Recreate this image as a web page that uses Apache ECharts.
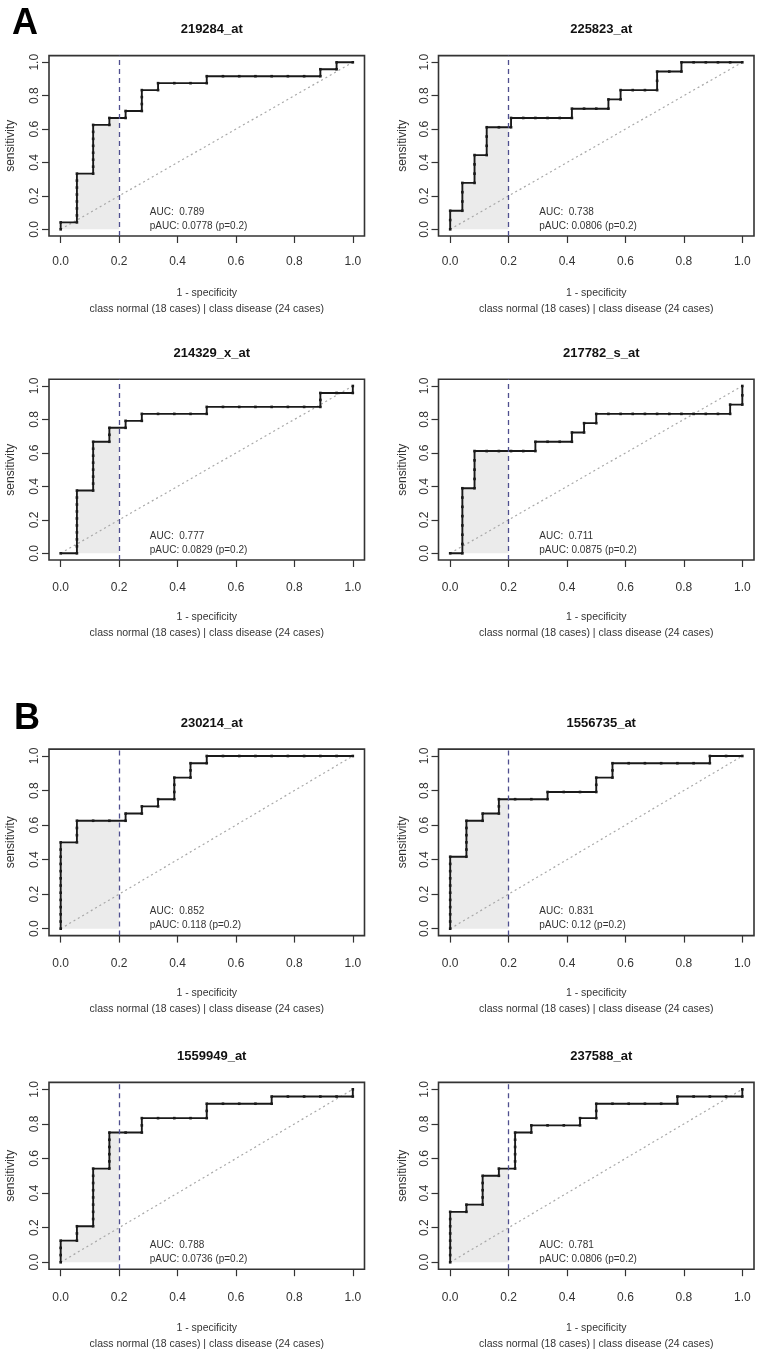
<!DOCTYPE html>
<html>
<head>
<meta charset="utf-8">
<script src="https://cdn.jsdelivr.net/npm/echarts@6/dist/echarts.min.js"></script>
<style>
html,body{margin:0;padding:0;background:#fff;}
#c{width:761px;height:1354px;}
</style>
</head>
<body>
<div id="c"></div>
<script>
// ---------- DATA ----------
const titles = ['219284_at','225823_at','214329_x_at','217782_s_at','230214_at','1556735_at','1559949_at','237588_at'];
const aucValues = ['0.789','0.738','0.777','0.711','0.852','0.831','0.788','0.781'];
const paucValues = ['0.0778','0.0806','0.0829','0.0875','0.118','0.12','0.0736','0.0806'];
// denominators of the step counts (x = 1 - specificity, y = sensitivity)
const xDen = [18,24,18,24,18,18,18,18];
const yDen = [24,18,24,18,24,24,24,24];
const xTicks = [0, 0.2, 0.4, 0.6, 0.8, 1.0];
const tickLabels = ['0.0','0.2','0.4','0.6','0.8','1.0'];
const diagonal = [[0,0],[1,1]];
const pCut = 0.2;

// ROC points as counts (x count / xDen, y count / yDen)
const p1_x = [0,0,1,1,1,1,1,1,1,1,2,2,2,2,2,2,2,2,3,3,4,4,5,5,5,5,6,6,7,8,9,9,10,11,12,13,14,15,16,16,17,17,18];
const p1_y = [0,1,1,2,3,4,5,6,7,8,8,9,10,11,12,13,14,15,15,16,16,17,17,18,19,20,20,21,21,21,21,22,22,22,22,22,22,22,22,23,23,24,24];
const p2_x = [0,0,0,1,1,1,1,2,2,2,2,3,3,3,3,4,5,5,6,7,8,9,10,10,11,12,13,13,14,14,15,16,17,17,17,18,19,19,20,21,22,23,24];
const p2_y = [0,1,2,2,3,4,5,5,6,7,8,8,9,10,11,11,11,12,12,12,12,12,12,13,13,13,13,14,14,15,15,15,15,16,17,17,17,18,18,18,18,18,18];
const p3_x = [0,1,1,1,1,1,1,1,1,1,1,2,2,2,2,2,2,2,2,3,3,3,4,4,5,5,6,7,8,9,9,10,11,12,13,14,15,16,16,16,17,18,18];
const p3_y = [0,0,1,2,3,4,5,6,7,8,9,9,10,11,12,13,14,15,16,16,17,18,18,19,19,20,20,20,20,20,21,21,21,21,21,21,21,21,22,23,23,23,24];
const p4_x = [0,1,1,1,1,1,1,1,1,2,2,2,2,2,3,4,5,6,7,7,8,9,10,10,11,11,12,12,13,14,15,16,17,18,19,20,21,22,23,23,24,24,24];
const p4_y = [0,0,1,2,3,4,5,6,7,7,8,9,10,11,11,11,11,11,11,12,12,12,12,13,13,14,14,15,15,15,15,15,15,15,15,15,15,15,15,16,16,17,18];
const p5_x = [0,0,0,0,0,0,0,0,0,0,0,0,0,1,1,1,1,2,3,4,4,5,5,6,6,7,7,7,7,8,8,8,9,9,10,11,12,13,14,15,16,17,18];
const p5_y = [0,1,2,3,4,5,6,7,8,9,10,11,12,12,13,14,15,15,15,15,16,16,17,17,18,18,19,20,21,21,22,23,23,24,24,24,24,24,24,24,24,24,24];
const p6_x = [0,0,0,0,0,0,0,0,0,0,0,1,1,1,1,1,1,2,2,3,3,3,4,5,6,6,7,8,9,9,9,10,10,10,11,12,13,14,15,16,16,17,18];
const p6_y = [0,1,2,3,4,5,6,7,8,9,10,10,11,12,13,14,15,15,16,16,17,18,18,18,18,19,19,19,19,20,21,21,22,23,23,23,23,23,23,23,24,24,24];
const p7_x = [0,0,0,0,1,1,1,2,2,2,2,2,2,2,2,2,3,3,3,3,3,3,4,5,5,5,6,7,8,9,9,9,10,11,12,13,13,14,15,16,17,18,18];
const p7_y = [0,1,2,3,3,4,5,5,6,7,8,9,10,11,12,13,13,14,15,16,17,18,18,18,19,20,20,20,20,20,21,22,22,22,22,22,23,23,23,23,23,23,24];
const p8_x = [0,0,0,0,0,0,0,0,1,1,2,2,2,2,2,3,3,4,4,4,4,4,4,5,5,6,7,8,8,9,9,9,10,11,12,13,14,14,15,16,17,18,18];
const p8_y = [0,1,2,3,4,5,6,7,7,8,8,9,10,11,12,12,13,13,14,15,16,17,18,18,19,19,19,19,20,20,21,22,22,22,22,22,22,23,23,23,23,23,24];
const curvesX = [p1_x,p2_x,p3_x,p4_x,p5_x,p6_x,p7_x,p8_x];
const curvesY = [p1_y,p2_y,p3_y,p4_y,p5_y,p6_y,p7_y,p8_y];

// ---------- LAYOUT ----------
const colLeft = [49, 438.5];
const colWidth = 315.5;
const rowTop = [55.6, 379.3, 749.1, 1082.4];
const rowHeight = [180.4, 180.7, 186.5, 186.8];
const titleTop = [18, 342, 712, 1045];
const xNameGap = [49, 49, 50, 51];
const xLabelMargin = [20, 22, 22, 22];
const yNameGap = [32, 30];

const SANS = '"Liberation Sans",Arial,sans-serif';
const TXT = '#333';

const grids = [], xAxes = [], yAxes = [], series = [], titleList = [];

titleList.push({text:'A', left:7, top:1, textStyle:{fontFamily:SANS, fontWeight:'bold', fontSize:36, color:'#000'}});
titleList.push({text:'B', left:9, top:696, textStyle:{fontFamily:SANS, fontWeight:'bold', fontSize:36, color:'#000'}});

const fmt = v => { const k = xTicks.indexOf(v); return k >= 0 ? tickLabels[k] : v.toFixed(1); };

for (let i = 0; i < 8; i++) {
  const col = i % 2, row = Math.floor(i / 2);
  grids.push({left: colLeft[col], top: rowTop[row], width: colWidth, height: rowHeight[row],
    show: true, borderColor: '#333', borderWidth: 1.6, backgroundColor: 'transparent', containLabel: false});
  titleList.push({text: titles[i], left: colLeft[col] + colWidth / 2, top: titleTop[row], textAlign: 'center',
    textStyle: {fontFamily: SANS, fontWeight: 'bold', fontSize: 13, color: '#111'}});
  xAxes.push({type: 'value', gridIndex: i, min: -0.04, max: 1.04,
    axisLine: {show: false, onZero: false}, splitLine: {show: false},
    axisTick: {show: true, inside: false, length: 7, customValues: xTicks, lineStyle: {color: '#333', width: 1.2}},
    axisLabel: {customValues: xTicks, margin: xLabelMargin[row], fontFamily: SANS, fontSize: 12, color: TXT, formatter: fmt},
    name: '1 - specificity\nclass normal (18 cases) | class disease (24 cases)',
    nameLocation: 'middle', nameGap: xNameGap[row], nameMoveOverlap: false,
    nameTextStyle: {fontFamily: SANS, fontSize: 10.5, color: TXT, lineHeight: 16, verticalAlign: 'top', align: 'center'}
  });
  yAxes.push({type: 'value', gridIndex: i, min: -0.04, max: 1.04,
    axisLine: {show: false, onZero: false}, splitLine: {show: false},
    axisTick: {show: true, inside: false, length: 7, customValues: xTicks, lineStyle: {color: '#333', width: 1.2}},
    axisLabel: {customValues: xTicks, rotate: 90, margin: 8, fontFamily: SANS, fontSize: 12, color: TXT, formatter: fmt},
    name: 'sensitivity', nameLocation: 'middle', nameGap: yNameGap[col], nameMoveOverlap: false,
    nameTextStyle: {fontFamily: SANS, fontSize: 12, color: TXT}
  });

  const pts = curvesX[i].map((c, k) => [c / xDen[i], curvesY[i][k] / yDen[i]]);
  // partial-AUC shaded region: curve points up to the cut, closed at the cut with the curve's level there
  const part = pts.filter(p => p[0] <= pCut);
  const levelAtCut = part[part.length - 1][1];
  part.push([pCut, levelAtCut]);

  series.push({type: 'line', xAxisIndex: i, yAxisIndex: i, data: part, symbol: 'none',
    lineStyle: {width: 0, opacity: 0}, areaStyle: {color: '#ebebeb', opacity: 1}, z: 1, silent: true,
    markLine: {silent: true, symbol: 'none', label: {show: false},
      lineStyle: {type: [5, 4], color: '#4f4f8f', width: 1.3},
      data: [{xAxis: pCut}]}
  });
  series.push({type: 'line', xAxisIndex: i, yAxisIndex: i, data: diagonal, symbol: 'none', z: 2, silent: true,
    lineStyle: {type: [2, 3], color: '#a8a8a8', width: 1.2},
    markPoint: {symbol: 'circle', symbolSize: 0, silent: true,
      label: {show: true, position: 'right', distance: 0, fontFamily: SANS, fontSize: 10, color: TXT},
      data: [
        {coord: [0.305, 0.1], value: 0, label: {formatter: 'AUC:  ' + aucValues[i]}},
        {coord: [0.305, 0.018], value: 0, label: {formatter: 'pAUC: ' + paucValues[i] + ' (p=0.2)'}}
      ]}
  });
  series.push({type: 'line', xAxisIndex: i, yAxisIndex: i, data: pts, z: 3, silent: true,
    symbol: 'rect', symbolSize: 2.6, showAllSymbol: true,
    itemStyle: {color: '#1a1a1a'}, lineStyle: {color: '#1a1a1a', width: 1.9}});
}

const chart = echarts.init(document.getElementById('c'), null, {renderer: 'canvas'});
chart.setOption({
  animation: false,
  backgroundColor: '#fff',
  title: titleList,
  grid: grids,
  xAxis: xAxes,
  yAxis: yAxes,
  series: series
});
</script>
</body>
</html>
